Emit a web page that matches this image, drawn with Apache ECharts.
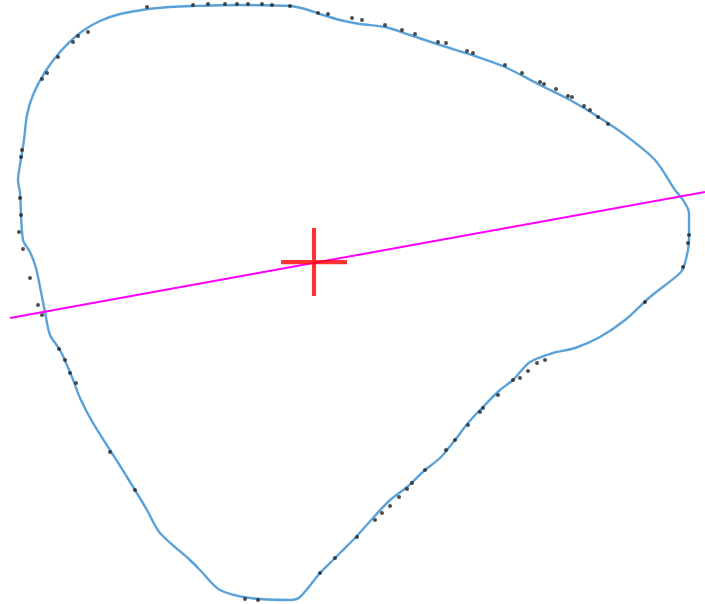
<!DOCTYPE html>
<html>
<head>
<meta charset="utf-8">
<script src="https://cdn.jsdelivr.net/npm/echarts@6/dist/echarts.min.js"></script>
<style>
  html, body { margin: 0; padding: 0; background: #fff; }
  #chart { width: 705px; height: 604px; }
</style>
</head>
<body>
<div id="chart"></div>
<script>
// outline of the shape, clockwise from the top-left
const contour = [
  [148, 9], [170, 7], [193, 6], [240, 5], [290, 6], [305, 9], [320, 14], [340, 20],
  [360, 24], [385, 27], [410, 35], [440, 45], [475, 56], [505, 67], [540, 85],
  [570, 100], [600, 118], [625, 135], [655, 160], [675, 190], [683, 200], [689, 213],
  [689, 240], [685, 263], [680, 273], [650, 297], [625, 320], [600, 337], [575, 348],
  [553, 353], [530, 362], [513, 380], [500, 390], [480, 410], [468, 423], [455, 440],
  [440, 458], [425, 470], [407, 487], [390, 500], [373, 518], [355, 538], [340, 553],
  [333, 560], [320, 573], [300, 597], [290, 600], [250, 598], [220, 590], [200, 570],
  [190, 560], [160, 533], [147, 510], [127, 477], [110, 450], [93, 423], [80, 398],
  [72, 377], [60, 350], [50, 335], [45, 312], [41, 292], [36, 268], [30, 252], [23, 240],
  [20, 193], [18, 180], [20, 165], [24, 140], [27, 115], [33, 95], [45, 72],
  [60, 52], [80, 33], [100, 21], [120, 14], [148, 9]
]

// measured edge points
const edgePoints = [
  [147, 7], [193, 5], [208, 4], [225, 4], [237, 4], [248, 4], [262, 4], [272, 5],
  [290, 6], [318, 13], [328, 14], [352, 18], [362, 20], [385, 25], [402, 30],
  [415, 34], [438, 42], [446, 43], [467, 51], [473, 53], [505, 65], [522, 73],
  [540, 82], [544, 84], [556, 89], [568, 96], [572, 97], [584, 106], [590, 110],
  [598, 117], [608, 124], [689, 235], [688, 243], [683, 267], [645, 302],
  [545, 360], [537, 363], [528, 371], [520, 378], [513, 380], [498, 395],
  [483, 408], [480, 412], [468, 425], [455, 440], [446, 450], [425, 470],
  [412, 483], [407, 489], [399, 497], [390, 506], [382, 513], [375, 520],
  [357, 537], [335, 558], [320, 573], [258, 600], [245, 599], [135, 490],
  [110, 452], [76, 383], [70, 373], [65, 360], [59, 349], [42, 315], [38, 305],
  [30, 278], [23, 249], [19, 232], [21, 215], [20, 198], [21, 157], [22, 150],
  [47, 73], [42, 79], [58, 57], [73, 42], [78, 36], [88, 32]
]

// principal axis and centroid
const axisLine = [[10, 318], [705, 192]]
const centroid = [[314, 262]]

const chart = echarts.init(document.getElementById('chart'))
chart.setOption({
  animation: false,
  grid: { left: 0, right: 0, top: 0, bottom: 0 },
  xAxis: { type: 'value', min: 0, max: 705, show: false },
  yAxis: { type: 'value', min: 0, max: 604, inverse: true, show: false },
  series: [
    {
      type: 'line',
      data: contour,
      showSymbol: false,
      smooth: 0.3,
      lineStyle: { color: '#5aa2d8', width: 2.4 },
      z: 2
    },
    {
      type: 'scatter',
      data: edgePoints,
      symbolSize: 4,
      itemStyle: { color: '#222', opacity: 0.8 },
      z: 3
    },
    {
      type: 'line',
      data: axisLine,
      showSymbol: false,
      lineStyle: { color: '#ff00ff', width: 2 },
      z: 4
    },
    {
      type: 'scatter',
      data: centroid,
      symbol: 'path://M15,0h2v15h15v2h-15v15h-2v-15h-15v-2h15z',
      symbolSize: [66, 68],
      itemStyle: { color: '#ff0000' },
      z: 5
    }
  ]
})
</script>
</body>
</html>
